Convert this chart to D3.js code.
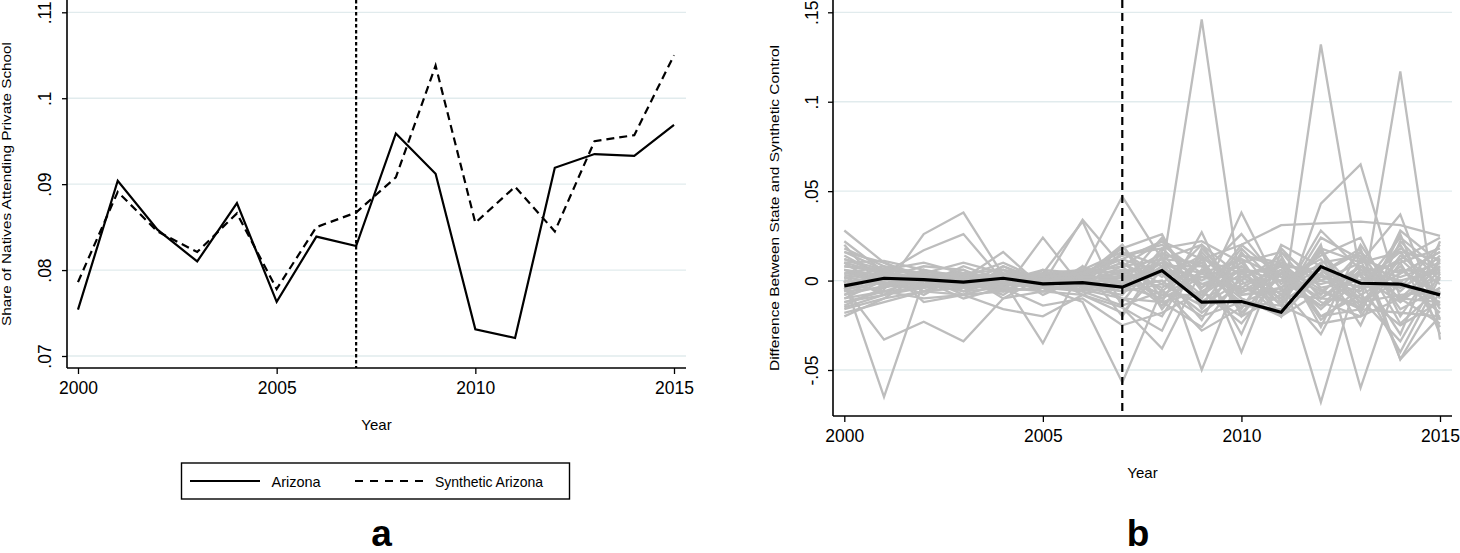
<!DOCTYPE html>
<html><head><meta charset="utf-8">
<script src="https://cdn.jsdelivr.net/npm/d3@7"></script>
<style>body{margin:0;background:#fff}svg{display:block}text{font-family:"Liberation Sans",Arial,sans-serif}</style>
</head><body><svg id="c" width="1460" height="553"></svg>
<script>
const years = d3.range(2000, 2016);
const xTicksA = [2000, 2005, 2010, 2015];
const yTicksA = [0.07, 0.08, 0.09, 0.10, 0.11];
const yTickLabelsA = [".07", ".08", ".09", ".1", ".11"];
const yTicksB = [-0.05, 0, 0.05, 0.10, 0.15];
const yTickLabelsB = ["-.05", "0", ".05", ".1", ".15"];
const treatYear = 2007;

const arizona = [0.0754, 0.0904, 0.0847, 0.0810, 0.0878, 0.0763, 0.0839, 0.0828, 0.0959, 0.0912, 0.0731, 0.0721, 0.0919, 0.0935, 0.0933, 0.0969];
const synthArizona = [0.0786, 0.0891, 0.0845, 0.0821, 0.0866, 0.0778, 0.0850, 0.0867, 0.0908, 0.1038, 0.0855, 0.0897, 0.0845, 0.0950, 0.0957, 0.1050];

const arizonaGap = [-0.0030, 0.0013, 0.0005, -0.0009, 0.0013, -0.0018, -0.0011, -0.0037, 0.0056, -0.0121, -0.0117, -0.0177, 0.0078, -0.0015, -0.0020, -0.0080];

const placeboGaps = [
 [0.004, 0.002, 0.001, -0.003, 0.002, 0.000, 0.003, 0.006, 0.005, 0.146, -0.007, 0.004, -0.010, 0.008, 0.002, 0.010],
 [-0.006, -0.004, 0.003, 0.001, -0.002, 0.002, 0.000, -0.004, 0.010, -0.008, 0.006, -0.020, 0.132, 0.002, -0.012, 0.005],
 [0.008, 0.005, -0.002, 0.004, 0.001, -0.003, 0.002, 0.010, -0.006, 0.012, 0.004, 0.008, -0.005, -0.015, 0.117, -0.033],
 [-0.010, -0.006, -0.004, 0.002, -0.005, 0.001, -0.002, 0.003, 0.015, 0.008, -0.010, -0.020, 0.043, 0.065, -0.010, 0.010],
 [0.012, 0.006, 0.004, 0.000, 0.003, 0.002, 0.005, 0.012, 0.022, 0.012, 0.020, 0.031, 0.032, 0.033, 0.031, 0.025],
 [0.002, -0.002, 0.000, 0.004, -0.003, 0.003, 0.005, 0.047, 0.012, 0.020, 0.002, 0.010, 0.003, -0.004, 0.018, 0.005],
 [-0.004, 0.002, -0.002, -0.006, 0.000, -0.004, -0.012, -0.057, -0.005, -0.028, -0.015, 0.012, -0.020, -0.008, -0.025, -0.012],
 [0.000, -0.065, 0.000, -0.004, 0.002, -0.001, 0.001, -0.002, 0.004, -0.010, 0.018, -0.004, 0.006, -0.012, 0.000, 0.006],
 [0.020, -0.005, 0.026, 0.038, 0.003, -0.002, 0.004, 0.008, -0.012, 0.027, -0.020, 0.010, -0.008, 0.016, -0.016, -0.004],
 [0.012, 0.004, 0.017, 0.026, 0.000, 0.004, -0.006, 0.016, 0.008, -0.010, 0.038, -0.006, 0.010, -0.025, 0.022, 0.000],
 [-0.004, -0.033, -0.023, -0.034, -0.010, -0.006, -0.008, -0.015, -0.038, 0.006, -0.012, -0.004, -0.030, 0.012, -0.044, -0.020],
 [-0.006, 0.004, 0.002, -0.004, 0.000, -0.035, 0.008, -0.020, 0.014, -0.050, 0.006, 0.000, 0.012, -0.012, 0.008, -0.014],
 [0.006, 0.001, -0.003, 0.002, -0.006, 0.024, -0.004, 0.020, -0.010, 0.014, -0.040, 0.016, -0.010, 0.004, 0.010, 0.018],
 [0.028, 0.010, 0.002, -0.004, 0.006, -0.002, 0.034, 0.008, 0.022, -0.004, 0.010, -0.014, 0.020, -0.060, 0.006, -0.008],
 [0.022, 0.005, -0.006, 0.003, 0.002, 0.004, 0.033, -0.015, -0.028, 0.018, -0.006, 0.006, -0.068, 0.008, -0.006, 0.014],
 [-0.015, -0.008, -0.004, 0.001, 0.016, -0.004, -0.002, 0.002, 0.006, -0.012, 0.004, -0.010, 0.018, 0.010, 0.037, -0.022],
 [-0.020, -0.010, 0.004, -0.006, -0.004, -0.014, -0.010, -0.025, -0.018, -0.006, -0.024, 0.004, -0.016, 0.004, -0.030, 0.022],
 [0.018, 0.008, -0.012, -0.008, -0.016, -0.020, -0.008, 0.000, 0.010, 0.000, 0.012, -0.020, 0.004, 0.018, -0.044, -0.006],
 [0.010, 0.011, 0.006, 0.002, 0.010, 0.000, 0.002, 0.018, 0.026, -0.016, 0.008, -0.008, 0.016, -0.018, 0.026, -0.030],
 [-0.012, -0.006, -0.010, -0.008, -0.002, 0.003, 0.000, 0.005, -0.004, 0.010, -0.016, 0.018, -0.004, 0.000, -0.040, 0.002],
 [0.004, 0.008, 0.004, 0.010, 0.004, -0.002, 0.003, 0.012, 0.004, -0.022, 0.016, -0.012, 0.024, 0.012, 0.004, 0.016],
 [-0.008, 0.002, -0.008, 0.004, -0.010, 0.002, -0.004, -0.008, 0.018, -0.002, -0.004, 0.008, -0.020, -0.016, 0.014, -0.002],
 [0.006, -0.002, 0.006, -0.002, 0.008, 0.000, 0.006, 0.004, -0.014, 0.006, 0.000, 0.014, -0.026, 0.020, -0.012, 0.008],
 [-0.002, 0.004, 0.000, -0.010, -0.004, 0.004, 0.002, -0.010, -0.020, 0.016, -0.008, -0.006, 0.000, -0.006, 0.020, -0.016],
 [0.014, 0.002, 0.008, 0.006, -0.002, -0.004, 0.004, 0.014, 0.020, 0.004, 0.026, -0.002, 0.014, 0.024, -0.020, 0.012],
 [-0.018, -0.012, -0.006, -0.004, 0.002, 0.000, -0.002, -0.004, 0.000, -0.018, -0.002, 0.006, -0.012, -0.020, 0.010, -0.026],
 [0.008, 0.006, 0.010, 0.004, 0.006, 0.002, 0.000, -0.006, 0.008, 0.008, -0.014, -0.016, 0.004, 0.016, -0.004, 0.020],
 [-0.010, 0.000, 0.002, 0.000, -0.008, 0.006, -0.006, 0.002, -0.008, -0.008, 0.020, 0.002, -0.014, -0.002, 0.016, -0.010],
 [0.002, -0.008, 0.006, -0.002, 0.004, -0.006, 0.008, -0.002, 0.012, 0.010, -0.030, 0.020, 0.008, -0.010, -0.034, 0.004],
 [-0.006, 0.006, -0.002, 0.008, 0.000, 0.006, -0.004, 0.006, -0.012, -0.026, 0.002, -0.010, 0.028, 0.006, 0.000, -0.018],
 [0.016, 0.010, 0.000, 0.006, -0.006, 0.002, 0.006, -0.012, 0.016, -0.014, 0.014, 0.010, -0.022, -0.004, 0.024, 0.006],
 [-0.014, -0.004, 0.004, -0.006, 0.006, -0.008, 0.002, 0.010, -0.002, 0.020, -0.010, -0.018, 0.010, 0.014, -0.024, -0.004],
 [0.000, -0.002, -0.004, 0.004, -0.002, 0.004, -0.008, -0.018, 0.006, 0.002, 0.008, -0.008, 0.004, -0.014, 0.012, 0.024],
 [0.010, -0.004, 0.002, -0.008, 0.008, -0.002, 0.002, 0.020, -0.016, 0.012, -0.018, 0.004, -0.006, 0.008, -0.010, -0.012],
 [-0.004, 0.006, -0.006, 0.002, -0.004, 0.006, 0.004, -0.002, 0.024, -0.006, 0.006, -0.014, 0.018, -0.018, 0.028, 0.010],
 [0.006, 0.003, 0.002, 0.000, 0.004, 0.003, 0.001, 0.004, 0.010, 0.004, 0.012, 0.002, 0.008, -0.002, 0.006, 0.004],
 [-0.008, -0.003, -0.004, -0.002, -0.006, -0.004, -0.005, -0.010, -0.012, -0.006, -0.020, -0.008, -0.010, -0.012, -0.008, -0.006],
 [0.003, 0.000, 0.005, 0.003, 0.001, 0.002, 0.004, 0.014, 0.018, 0.022, 0.010, 0.016, 0.000, 0.010, 0.016, 0.012],
 [-0.012, -0.008, -0.002, -0.004, -0.002, -0.001, -0.003, -0.006, -0.002, -0.014, 0.000, -0.020, -0.006, -0.016, -0.018, -0.020],
 [0.010, 0.004, -0.002, -0.001, 0.003, 0.001, 0.002, 0.002, -0.008, 0.004, -0.006, 0.000, -0.014, 0.006, -0.010, 0.002],
 [-0.002, -0.006, 0.001, 0.000, -0.004, -0.006, -0.002, 0.008, 0.012, -0.004, 0.014, 0.008, 0.006, 0.000, 0.012, -0.008],
 [0.016, 0.006, 0.003, 0.002, 0.000, 0.004, 0.006, 0.016, 0.002, 0.014, -0.008, -0.004, 0.016, -0.008, 0.004, 0.016],
 [-0.016, -0.010, -0.006, -0.008, -0.006, -0.004, -0.006, -0.014, -0.006, -0.020, -0.012, -0.014, -0.024, -0.020, -0.010, -0.024],
 [0.001, 0.007, 0.003, 0.004, 0.002, -0.003, 0.000, 0.000, 0.006, -0.002, 0.006, 0.004, -0.002, 0.004, -0.004, 0.008],
 [-0.005, -0.001, -0.003, 0.002, -0.001, 0.001, -0.001, -0.003, -0.010, 0.002, -0.004, -0.012, 0.002, -0.004, -0.002, -0.012]
];

const svg = d3.select("#c");
const gridColor = "#e1ebed";

function panel(cfg) {
  const g = svg.append("g");
  const x = d3.scaleLinear().domain([2000, 2015]).range([cfg.x2000, cfg.x2015]);
  const y = d3.scaleLinear().domain(cfg.yTickVals).range(cfg.yTickPx);
  g.append("g").selectAll("line").data(cfg.yTicks).join("line")
    .attr("x1", cfg.left).attr("x2", cfg.right)
    .attr("y1", d => y(d)).attr("y2", d => y(d))
    .attr("stroke", gridColor).attr("stroke-width", 1.3);
  const ya = d3.axisLeft(y).tickValues(cfg.yTicks).tickSize(5).tickFormat((d, i) => cfg.yLabels[i]);
  const yg = g.append("g").attr("transform", `translate(${cfg.left},0)`).call(ya);
  yg.attr("font-family", null).attr("font-size", null);
  yg.select(".domain").attr("d", `M0,${cfg.bottom}V${cfg.top}`).attr("stroke", "#000").attr("stroke-width", 1.6);
  yg.selectAll(".tick line").attr("stroke", "#000").attr("stroke-width", 1.3);
  yg.selectAll(".tick text").attr("x", 0).attr("dy", 0)
    .attr("transform", `translate(${-cfg.yLabOff},0) rotate(-90)`)
    .attr("text-anchor", "middle").style("font-size", "17.5px").attr("fill", "#000");
  const xa = d3.axisBottom(x).tickValues(xTicksA).tickSize(6).tickFormat(d3.format("d"));
  const xg = g.append("g").attr("transform", `translate(0,${cfg.bottom})`).call(xa);
  xg.attr("font-family", null).attr("font-size", null);
  xg.select(".domain").attr("d", `M${cfg.left},0H${cfg.right}`).attr("stroke", "#000").attr("stroke-width", 1.6);
  xg.selectAll(".tick line").attr("stroke", "#000").attr("stroke-width", 1.3);
  xg.selectAll(".tick text").attr("y", 0).attr("dy", 0).attr("transform", "translate(0,25.8)")
    .style("font-size", "17.5px").attr("fill", "#000");
  g.append("text").attr("transform", `translate(${cfg.yTitleX},${(cfg.top + cfg.bottom) / 2}) rotate(-90)`)
    .attr("text-anchor", "middle").attr("font-size", 13.5)
    .attr("textLength", cfg.yTitleLen).attr("lengthAdjust", "spacingAndGlyphs").text(cfg.yTitle);
  g.append("text").attr("x", (cfg.left + cfg.right) / 2).attr("y", cfg.yearY)
    .attr("text-anchor", "middle").attr("font-size", 15).text("Year");
  g.append("text").attr("x", cfg.letterX).attr("y", 546)
    .attr("text-anchor", "middle").attr("font-size", 37).attr("font-weight", "bold").text(cfg.letter);
  return {g, x, y};
}

// Panel a
const A = panel({left: 67, right: 686, top: 0, bottom: 368, x2000: 78, x2015: 674,
  yTickVals: [0.07, 0.11], yTickPx: [356, 12.3], yTicks: yTicksA, yLabels: yTickLabelsA,
  yLabOff: 16.5, yTitleX: 10.5, yTitle: "Share of Natives Attending Private School", yTitleLen: 284,
  yearY: 430, letter: "a", letterX: 381.5});

A.g.append("line").attr("x1", A.x(treatYear)).attr("x2", A.x(treatYear))
  .attr("y1", 0).attr("y2", 368).attr("stroke", "#000").attr("stroke-width", 2.2).attr("stroke-dasharray", "3.5,2.5");

const lineA = d3.line().x((d, i) => A.x(years[i])).y(d => A.y(d));
A.g.append("path").datum(arizona).attr("d", lineA).attr("fill", "none").attr("stroke", "#000").attr("stroke-width", 2.2);
A.g.append("path").datum(synthArizona).attr("d", lineA).attr("fill", "none").attr("stroke", "#000").attr("stroke-width", 2.2).attr("stroke-dasharray", "8,5");

const lg = A.g.append("g");
lg.append("rect").attr("x", 181.5).attr("y", 463).attr("width", 388).attr("height", 36)
  .attr("fill", "#fff").attr("stroke", "#000").attr("stroke-width", 1.4);
lg.append("line").attr("x1", 190).attr("x2", 260).attr("y1", 481).attr("y2", 481).attr("stroke", "#000").attr("stroke-width", 2);
lg.append("text").attr("x", 271.5).attr("y", 486.5).attr("font-size", 14.5).text("Arizona");
lg.append("line").attr("x1", 355).attr("x2", 426).attr("y1", 481).attr("y2", 481).attr("stroke", "#000").attr("stroke-width", 2).attr("stroke-dasharray", "8,7");
lg.append("text").attr("x", 435).attr("y", 486.5).attr("font-size", 14.5)
  .attr("textLength", 108).attr("lengthAdjust", "spacingAndGlyphs").text("Synthetic Arizona");

// Panel b
const B = panel({left: 833, right: 1452, top: 0, bottom: 416, x2000: 844.3, x2015: 1440,
  yTickVals: [-0.05, 0.15], yTickPx: [370, 12.3], yTicks: yTicksB, yLabels: yTickLabelsB,
  yLabOff: 15, yTitleX: 778.5, yTitle: "Difference Between State and Synthetic Control", yTitleLen: 326,
  yearY: 478, letter: "b", letterX: 1138});

const lineB = d3.line().x((d, i) => B.x(years[i])).y(d => B.y(d));
B.g.append("g").selectAll("path").data(placeboGaps).join("path")
  .attr("d", lineB).attr("fill", "none").attr("stroke", "#bdbdbd").attr("stroke-width", 2.3);
B.g.append("line").attr("x1", B.x(treatYear)).attr("x2", B.x(treatYear))
  .attr("y1", 0).attr("y2", 416).attr("stroke", "#000").attr("stroke-width", 2.2).attr("stroke-dasharray", "8,5");
B.g.append("path").datum(arizonaGap).attr("d", lineB).attr("fill", "none").attr("stroke", "#000").attr("stroke-width", 3.2);
</script></body></html>
